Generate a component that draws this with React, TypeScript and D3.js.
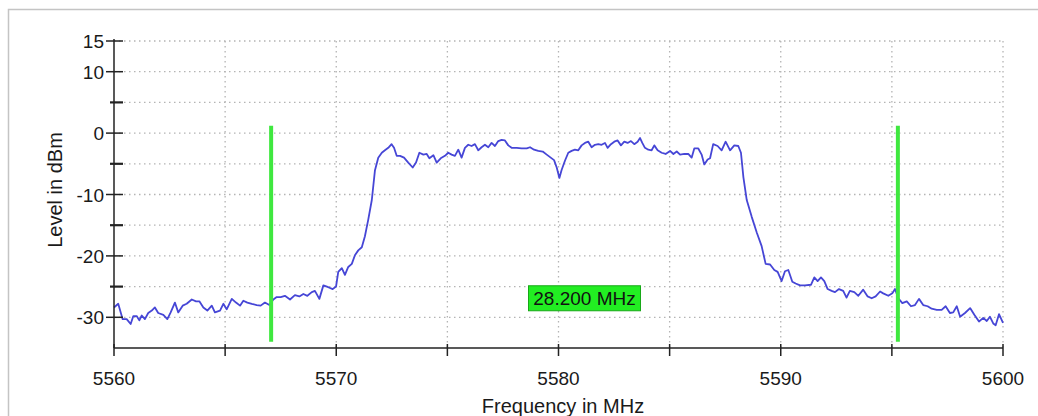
import * as d3 from 'd3';

// spectrum trace
const freqMHz = [
  5560.0, 5560.19, 5560.39, 5560.57, 5560.75, 5560.87, 5561.02, 5561.14, 5561.25, 5561.39,
  5561.54, 5561.7, 5561.84, 5561.99, 5562.22, 5562.4, 5562.55, 5562.74, 5562.89, 5563.09,
  5563.27, 5563.5, 5563.69, 5563.84, 5564.02, 5564.2, 5564.4, 5564.54, 5564.77, 5564.92,
  5565.07, 5565.3, 5565.49, 5565.67, 5565.82, 5566.0, 5566.2, 5566.42, 5566.6, 5566.79,
  5566.99, 5567.17, 5567.32, 5567.5, 5567.69, 5567.92, 5568.14, 5568.34, 5568.52, 5568.7,
  5568.9, 5569.04, 5569.24, 5569.42, 5569.64, 5569.84, 5569.99,
  5570.09, 5570.25, 5570.39, 5570.54, 5570.7, 5570.84, 5570.99, 5571.15, 5571.29, 5571.44,
  5571.6, 5571.74, 5571.89, 5572.05, 5572.19, 5572.34, 5572.49, 5572.6, 5572.72, 5572.87,
  5573.05, 5573.24, 5573.44, 5573.59, 5573.74, 5573.92, 5574.07, 5574.19, 5574.37, 5574.52,
  5574.7, 5574.89, 5575.04, 5575.19, 5575.34, 5575.49, 5575.64, 5575.79, 5575.94, 5576.09,
  5576.24, 5576.39, 5576.54, 5576.69, 5576.84, 5576.99, 5577.14, 5577.29, 5577.44, 5577.59,
  5577.74, 5577.89, 5578.12, 5578.34, 5578.57, 5578.72, 5578.9, 5579.09, 5579.29, 5579.47,
  5579.65, 5579.8, 5579.92, 5580.04, 5580.14, 5580.29, 5580.44, 5580.59, 5580.74, 5580.89,
  5581.04, 5581.19, 5581.34, 5581.49, 5581.64, 5581.79, 5581.94, 5582.09, 5582.21, 5582.36,
  5582.51, 5582.66, 5582.81, 5582.96, 5583.11, 5583.26, 5583.41, 5583.56, 5583.67, 5583.77,
  5583.89, 5584.04, 5584.19, 5584.31, 5584.46, 5584.64, 5584.82, 5585.02, 5585.17, 5585.32,
  5585.47, 5585.66, 5585.84, 5585.99, 5586.11, 5586.29, 5586.44, 5586.56, 5586.71, 5586.82,
  5586.96, 5587.16, 5587.34, 5587.52, 5587.72, 5587.91, 5588.09, 5588.21, 5588.32, 5588.47,
  5588.69, 5588.92, 5589.14, 5589.32, 5589.52, 5589.71, 5589.86, 5590.04, 5590.19, 5590.34,
  5590.52, 5590.67, 5590.87, 5591.09, 5591.36, 5591.51, 5591.66, 5591.81, 5591.96, 5592.11,
  5592.29, 5592.44, 5592.62, 5592.81, 5592.96, 5593.11, 5593.31, 5593.49, 5593.71, 5593.91,
  5594.09, 5594.27, 5594.47, 5594.61, 5594.84, 5595.02, 5595.14, 5595.29, 5595.47, 5595.67,
  5595.86, 5596.04, 5596.22, 5596.41, 5596.61, 5596.79, 5597.02, 5597.24, 5597.42, 5597.61,
  5597.76, 5597.92, 5598.07, 5598.29, 5598.52, 5598.71, 5598.92, 5599.11, 5599.27, 5599.41,
  5599.56, 5599.67, 5599.82, 5600.0,
];

const levelDbm = [
  -28.4, -27.8, -30.3, -30.3, -31.1, -29.8, -29.8, -30.5, -29.7, -30.3,
  -29.3, -28.9, -28.4, -29.3, -29.6, -30.3, -29.2, -27.6, -29.2, -28.1,
  -27.8, -27.1, -27.4, -27.4, -28.4, -28.9, -28.1, -29.2, -28.9, -27.8,
  -28.7, -27.0, -27.6, -28.1, -27.3, -27.6, -27.8, -28.0, -28.1, -27.6,
  -28.0, -27.1, -26.7, -26.7, -26.5, -27.1, -26.4, -26.6, -26.2, -26.5,
  -25.9, -25.7, -27.0, -24.8, -25.1, -25.4, -25.0,
  -22.6, -22.0, -23.1, -21.8, -21.3, -19.9, -19.1, -18.6, -16.8, -14.1,
  -10.9, -6.1, -4.0, -3.2, -2.8, -2.4, -1.8, -2.4, -3.7, -3.7,
  -4.0, -4.8, -5.6, -4.8, -3.2, -3.5, -3.4, -4.1, -3.6, -4.8,
  -4.1, -3.7, -3.2, -3.5, -3.7, -2.7, -4.0, -2.4, -1.9, -2.1,
  -1.8, -2.8, -2.3, -1.9, -2.3, -1.6, -2.1, -1.3, -1.1, -1.2,
  -2.0, -2.4, -2.4, -2.5, -2.5, -2.3, -2.7, -2.9, -3.0, -3.5,
  -4.0, -4.4, -5.6, -7.3, -6.0, -4.5, -3.2, -2.9, -2.7, -2.8,
  -2.0, -1.6, -1.4, -2.3, -1.9, -1.8, -1.9, -1.6, -2.4, -1.8,
  -1.4, -1.2, -2.0, -1.4, -1.6, -1.3, -1.8, -1.4, -0.8, -1.6,
  -2.4, -2.7, -2.8, -2.0, -2.8, -3.2, -3.4, -2.9, -3.4, -3.0,
  -3.5, -3.4, -3.4, -4.0, -2.5, -2.5, -3.5, -5.1, -4.3, -4.1,
  -1.8, -2.1, -2.8, -1.4, -2.8, -2.0, -2.1, -3.2, -7.2, -10.9,
  -13.6, -16.2, -18.4, -21.3, -21.4, -22.3, -22.6, -24.1, -22.5, -22.3,
  -24.2, -24.5, -24.8, -24.8, -24.7, -23.5, -24.1, -23.5, -24.1, -25.4,
  -25.7, -25.9, -25.4, -25.7, -26.8, -25.7, -25.9, -26.5, -25.5, -26.6,
  -26.9, -26.6, -25.8, -26.1, -26.5, -26.1, -25.4, -26.9, -27.7, -27.4,
  -28.2, -28.0, -27.0, -28.0, -28.2, -28.6, -28.8, -28.8, -28.2, -29.3,
  -29.2, -28.2, -29.9, -29.3, -28.5, -29.6, -30.7, -30.1, -30.6, -29.9,
  -31.0, -31.3, -29.5, -30.9,
];

const xTickLabels = [5560, 5570, 5580, 5590, 5600];
const yTickLabels = [15, 10, 0, -10, -20, -30];
const markerFreqs = [5567.07, 5595.27];
const spanLabel = '28.200 MHz';

const W = 1038;
const H = 416;
const FONT = '"Liberation Sans", Arial, sans-serif';

export default function App() {
  const x = d3.scaleLinear().domain([5560, 5600]).range([114, 1003]);
  const y = d3.scaleLinear().domain([-35, 15]).range([348, 41]);

  const xGrid = d3.range(5560, 5601, 5);
  const yGrid = d3.range(-30, 16, 5);

  const pts = freqMHz.map((f, i) => [f, levelDbm[i]] as [number, number]);
  const line = d3.line<[number, number]>()
    .x((d) => x(d[0]))
    .y((d) => y(d[1]));

  const boxCx = (x(markerFreqs[0]) + x(markerFreqs[1])) / 2;
  const boxCy = y(-26.9);

  return (
    <svg
      width={W}
      height={H}
      style={{ position: 'fixed', left: 0, top: 0, background: '#fff' }}
      fontFamily={FONT}
    >
      {/* outer frame */}
      <rect x={8.5} y={9.5} width={1200} height={600} fill="none" stroke="#c4c4c4" strokeWidth={1.5} />

      {/* dotted grid */}
      <g stroke="#b4b4b4" strokeWidth={1.3} strokeDasharray="1.5,3.5">
        {yGrid.map((v) => (
          <line key={'h' + v} x1={x(5560)} x2={x(5600)} y1={y(v)} y2={y(v)} />
        ))}
        {xGrid.slice(1).map((v) => (
          <line key={'v' + v} x1={x(v)} x2={x(v)} y1={y(15)} y2={y(-35)} />
        ))}
      </g>

      {/* trace */}
      <path d={line(pts) ?? ''} fill="none" stroke="#4646d6" strokeWidth={1.8} strokeLinejoin="round" />

      {/* span markers */}
      {markerFreqs.map((f) => (
        <line key={f} x1={x(f)} x2={x(f)} y1={y(1.2)} y2={y(-34)} stroke="#3fe83f" strokeWidth={4} />
      ))}
      <rect x={boxCx - 56} y={boxCy - 12.5} width={112} height={25} fill="#22ee22" stroke="#18a818" strokeWidth={1} />
      <text x={boxCx} y={boxCy + 6.8} textAnchor="middle" fontSize={19} fill="#111">{spanLabel}</text>

      {/* axes */}
      <g stroke="#222" strokeWidth={1.5}>
        <line x1={x(5560)} x2={x(5560)} y1={y(15) - 2} y2={y(-35)} />
        <line x1={x(5560)} x2={x(5600)} y1={y(-35)} y2={y(-35)} />
        {yGrid.map((v) =>
          yTickLabels.includes(v) ? (
            <line key={'yt' + v} x1={106} x2={123} y1={y(v)} y2={y(v)} />
          ) : (
            <line key={'yt' + v} x1={110} x2={123} y1={y(v)} y2={y(v)} strokeWidth={2.2} />
          ),
        )}
        {xGrid.map((v) => (
          <line key={'xt' + v} x1={x(v)} x2={x(v)} y1={y(-35) - 4} y2={y(-35) + 8} />
        ))}
      </g>

      <g fontSize={19} fill="#1a1a1a">
        {yTickLabels.map((v) => (
          <text key={'yl' + v} x={104} y={y(v) + 7} textAnchor="end">{v}</text>
        ))}
        {xTickLabels.map((v) => (
          <text key={'xl' + v} x={x(v)} y={385} textAnchor="middle">{v}</text>
        ))}
        <text x={563} y={413} textAnchor="middle" fontSize={20}>Frequency in MHz</text>
        <text transform={`translate(62, 190) rotate(-90)`} textAnchor="middle" fontSize={20}>Level in dBm</text>
      </g>
    </svg>
  );
}
